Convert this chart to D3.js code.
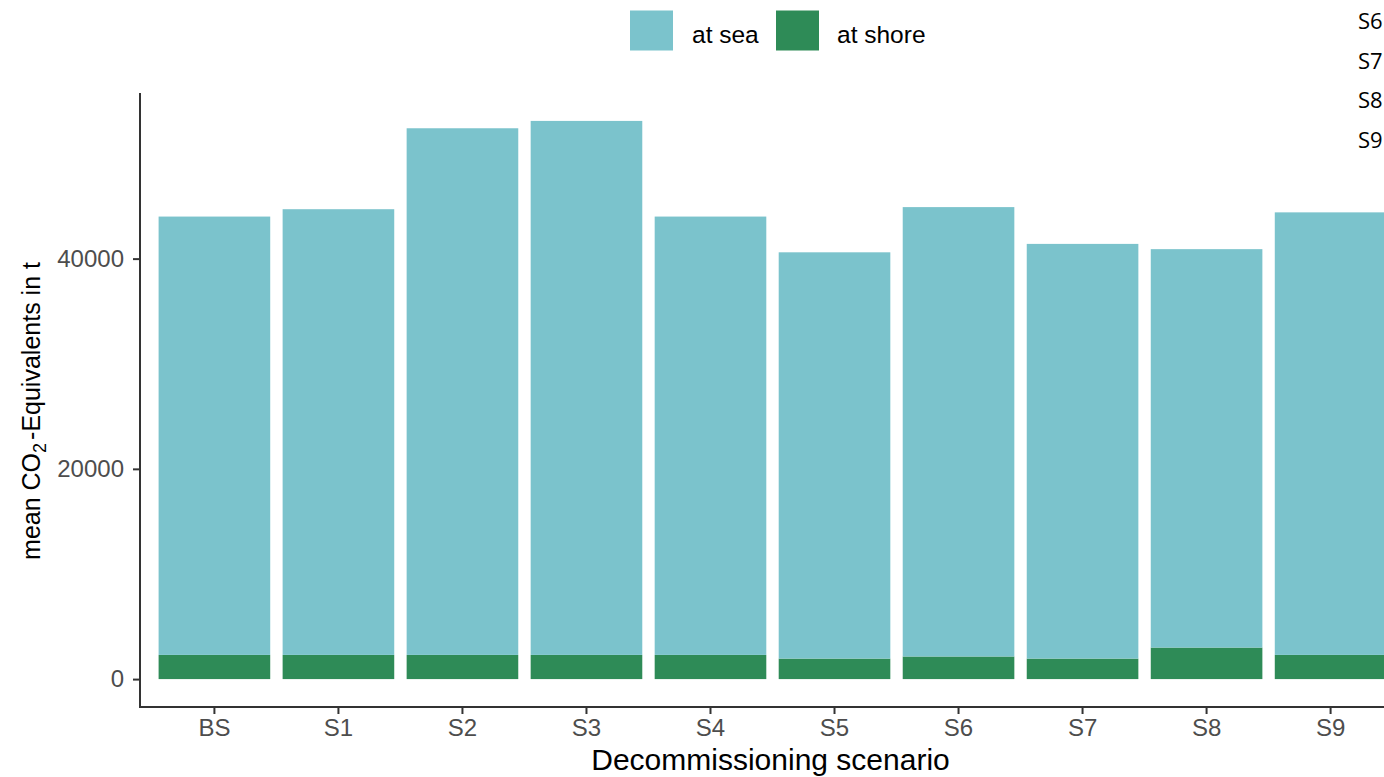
<!DOCTYPE html>
<html>
<head>
<meta charset="utf-8">
<script src="https://cdn.jsdelivr.net/npm/d3@7"></script>
<style>
  html, body { margin: 0; padding: 0; background: #fff; }
  svg { display: block; }
</style>
</head>
<body>
<svg id="chart" width="1384" height="777"></svg>
<script>
// Decommissioning scenarios and mean emissions (t CO2-eq), split by location
const categories = ["BS", "S1", "S2", "S3", "S4", "S5", "S6", "S7", "S8", "S9"];
const atShore = [2300, 2300, 2300, 2300, 2300, 1950, 2150, 1950, 3000, 2300];
const atSea = [41700, 42400, 50100, 50800, 41700, 38650, 42750, 39450, 37900, 42100];
const seriesNames = ["at sea", "at shore"];
const seriesColors = ["#7bc3cc", "#2e8b57"];
const yTicks = [0, 20000, 40000];
const sideLabels = ["S6", "S7", "S8", "S9"];

const svg = d3.select("#chart");

// Panel geometry
const panel = { left: 140, right: 1405, top: 93, bottom: 707 };
const font = "Liberation Sans, Arial, sans-serif";

const rows = categories.map((c, i) => ({ cat: c, "at shore": atShore[i], "at sea": atSea[i] }));
// shore emissions sit at the bottom of each bar
const stacked = d3.stack().keys(["at shore", "at sea"])(rows);

const maxTotal = d3.max(rows, d => d["at shore"] + d["at sea"]);
const x = d3.scaleBand()
  .domain(categories)
  .range([panel.left, panel.right])
  .paddingInner(0.1)
  .paddingOuter(0.15);
const y = d3.scaleLinear()
  .domain([-0.05 * maxTotal, 1.05 * maxTotal])
  .range([panel.bottom, panel.top]);

const color = d3.scaleOrdinal().domain(seriesNames).range(seriesColors);

// Bars
const gBars = svg.append("g");
stacked.forEach(layer => {
  gBars.append("g")
    .attr("fill", color(layer.key))
    .selectAll("rect")
    .data(layer)
    .join("rect")
    .attr("x", d => x(d.data.cat))
    .attr("width", x.bandwidth())
    .attr("y", d => y(d[1]))
    .attr("height", d => y(d[0]) - y(d[1]));
});

// Axes
const tickColor = "#333333";
const labelColor = "#4d4d4d";

const yAxis = d3.axisLeft(y).tickValues(yTicks).tickFormat(d3.format("d")).tickSize(7).tickPadding(9);
const gy = svg.append("g").attr("transform", `translate(${panel.left},0)`).call(yAxis);
gy.select(".domain").remove();
gy.selectAll(".tick line").attr("stroke", tickColor).attr("stroke-width", 2);
gy.selectAll(".tick text")
  .attr("fill", labelColor)
  .attr("font-family", font)
  .attr("font-size", 24);
gy.append("line")
  .attr("x1", 0).attr("x2", 0)
  .attr("y1", panel.top).attr("y2", panel.bottom + 1)
  .attr("stroke", tickColor).attr("stroke-width", 2);

const xAxis = d3.axisBottom(x).tickSize(7).tickPadding(5);
const gx = svg.append("g").attr("transform", `translate(0,${panel.bottom})`).call(xAxis);
gx.select(".domain").remove();
gx.selectAll(".tick line").attr("stroke", tickColor).attr("stroke-width", 2);
gx.selectAll(".tick text")
  .attr("fill", labelColor)
  .attr("font-family", font)
  .attr("font-size", 24);
gx.append("line")
  .attr("x1", panel.left - 1).attr("x2", panel.right)
  .attr("y1", 0).attr("y2", 0)
  .attr("stroke", tickColor).attr("stroke-width", 2);

// Axis titles
svg.append("text")
  .attr("x", (panel.left + panel.right) / 2 - 2)
  .attr("y", 770)
  .attr("text-anchor", "middle")
  .attr("font-family", font)
  .attr("font-size", 30)
  .attr("fill", "#000")
  .text("Decommissioning scenario");

const yTitle = svg.append("text")
  .attr("transform", "translate(40,411) rotate(-90)")
  .attr("text-anchor", "middle")
  .attr("font-family", font)
  .attr("font-size", 25)
  .attr("fill", "#000");
yTitle.append("tspan").text("mean CO");
yTitle.append("tspan").attr("font-size", 18).attr("dy", 6).text("2");
yTitle.append("tspan").attr("dy", -6).attr("dx", 3).text("-Equivalents in t");

// Legend
const legend = svg.append("g");
const legendItems = [
  { name: seriesNames[0], kx: 630, tx: 692 },
  { name: seriesNames[1], kx: 776, tx: 837 }
];
legendItems.forEach(it => {
  legend.append("rect")
    .attr("x", it.kx).attr("y", 10.5)
    .attr("width", 43).attr("height", 40)
    .attr("fill", color(it.name));
  legend.append("text")
    .attr("x", it.tx).attr("y", 43)
    .attr("font-family", font)
    .attr("font-size", 24.5)
    .attr("fill", "#000")
    .text(it.name);
});

// Scenario list at the top right
svg.append("g").selectAll("text")
  .data(sideLabels)
  .join("text")
  .attr("x", 1358)
  .attr("y", (d, i) => 29 + i * 39.5)
  .attr("font-family", "Open Sans, Noto Sans, sans-serif")
  .attr("font-size", 22)
  .attr("fill", "#000")
  .text(d => d);
</script>
</body>
</html>
